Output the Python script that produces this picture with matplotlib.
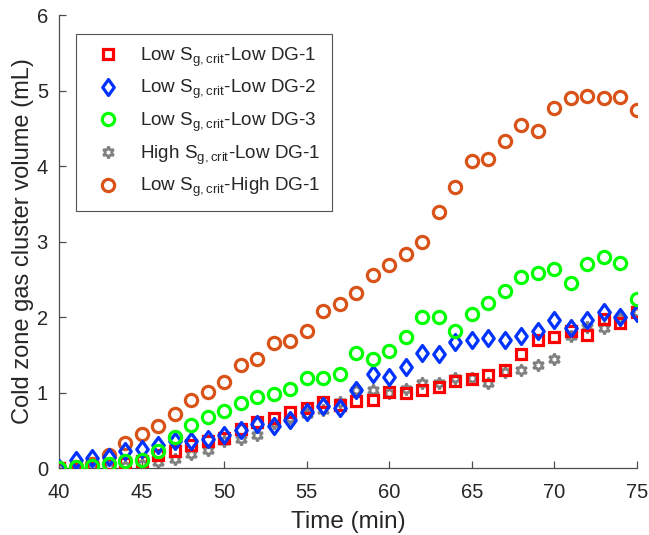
import numpy as np
import matplotlib
matplotlib.use('Agg')
import matplotlib.pyplot as plt
from matplotlib.path import Path

plt.rcParams['font.family'] = ['Liberation Sans', 'DejaVu Sans']
plt.rcParams['mathtext.fontset'] = 'custom'
plt.rcParams['mathtext.rm'] = 'Liberation Sans'
plt.rcParams['mathtext.it'] = 'Liberation Sans'

# time axis (min)
time = np.arange(40, 76)

# cluster volume (mL)
low_low_dg1 = [0.00, 0.00, 0.02, 0.05, 0.06, 0.09, 0.17, 0.22, 0.31, 0.36,
               0.40, 0.52, 0.61, 0.66, 0.74, 0.80, 0.88, 0.83, 0.89, 0.90,
               1.01, 0.99, 1.03, 1.07, 1.15, 1.18, 1.23, 1.30, 1.51, 1.70,
               1.73, 1.82, 1.76, 1.97, 1.92, 2.06]
low_low_dg2 = [0.00, 0.10, 0.13, 0.15, 0.22, 0.25, 0.31, 0.36, 0.36, 0.38,
               0.44, 0.51, 0.58, 0.55, 0.63, 0.74, 0.82, 0.80, 1.03, 1.25,
               1.21, 1.34, 1.52, 1.51, 1.67, 1.69, 1.72, 1.69, 1.75, 1.81,
               1.96, 1.85, 1.96, 2.06, 2.00, 2.05]
low_low_dg3 = [0.00, 0.01, 0.03, 0.05, 0.09, 0.11, 0.23, 0.41, 0.57, 0.68,
               0.76, 0.86, 0.94, 0.98, 1.05, 1.19, 1.19, 1.25, 1.52, 1.45,
               1.55, 1.74, 2.00, 2.00, 1.82, 2.04, 2.19, 2.34, 2.53, 2.58,
               2.63, 2.45, 2.70, 2.80, 2.72, 2.24]
high_low_dg1 = [0.00, 0.00, 0.00, 0.01, 0.03, 0.05, 0.08, 0.12, 0.19, 0.24,
                0.36, 0.39, 0.44, 0.60, 0.66, 0.72, 0.77, 0.88, 1.03, 1.04,
                0.99, 1.05, 1.12, 1.13, 1.19, 1.19, 1.12, 1.27, 1.30, 1.36,
                1.45, 1.75, 1.87, 1.85, 1.99, 2.07]
low_high_dg1 = [0.00, 0.02, 0.05, 0.17, 0.33, 0.45, 0.55, 0.71, 0.90, 1.01,
                1.14, 1.37, 1.45, 1.65, 1.68, 1.82, 2.08, 2.17, 2.32, 2.56,
                2.69, 2.84, 3.00, 3.39, 3.72, 4.06, 4.09, 4.33, 4.54, 4.46,
                4.77, 4.90, 4.93, 4.90, 4.91, 4.74]

labels = ['Low S$_{\\mathrm{g,crit}}$-Low DG-1',
          'Low S$_{\\mathrm{g,crit}}$-Low DG-2',
          'Low S$_{\\mathrm{g,crit}}$-Low DG-3',
          'High S$_{\\mathrm{g,crit}}$-Low DG-1',
          'Low S$_{\\mathrm{g,crit}}$-High DG-1']

# MATLAB-like diamond (a bit taller than wide)
diamond = Path([(0, 1), (0.72, 0), (0, -1), (-0.72, 0), (0, 1)],
               [Path.MOVETO, Path.LINETO, Path.LINETO, Path.LINETO, Path.CLOSEPOLY])

fig = plt.figure(figsize=(6.49, 5.35), dpi=100)
ax = fig.add_axes([0.0909, 0.1252, 0.8906, 0.8467])

mew = 2.3
h1, = ax.plot(time, low_low_dg1, linestyle='none', marker='s', ms=7.4,
              mfc='none', mec=(1, 0, 0), mew=mew, zorder=3)
h2, = ax.plot(time, low_low_dg2, linestyle='none', marker=diamond, ms=11.5,
              mfc='none', mec=(0, 0.2, 1), mew=mew, zorder=4)
h3, = ax.plot(time, low_low_dg3, linestyle='none', marker='o', ms=8.8,
              mfc='none', mec=(0, 1, 0), mew=mew, zorder=5)
h4, = ax.plot(time, high_low_dg1, linestyle='none', marker=(6, 1, 0), ms=8.5,
              mfc='none', mec=(0.5, 0.5, 0.5), mew=1.9, zorder=2)
h5, = ax.plot(time, low_high_dg1, linestyle='none', marker='o', ms=8.8,
              mfc='none', mec=(0.85, 0.325, 0.098), mew=mew, zorder=1)

ax.set_xlim(40, 75)
ax.set_ylim(0, 6)
ax.set_xticks(np.arange(40, 76, 5))
ax.set_yticks(np.arange(0, 7, 1))
ax.spines['top'].set_visible(False)
ax.spines['right'].set_visible(False)
for s in ['left', 'bottom']:
    ax.spines[s].set_color('#4d4d4d')
    ax.spines[s].set_linewidth(0.9)
ax.tick_params(direction='in', length=5, width=0.9, colors='#4d4d4d',
               labelcolor='#262626', labelsize=14.5)
ax.tick_params(axis='x', pad=11)
ax.tick_params(axis='y', pad=8)
ax.set_xlabel('Time (min)', fontsize=17.5, color='#262626', labelpad=6.5)
ax.set_ylabel('Cold zone gas cluster volume (mL)', fontsize=17, color='#262626', labelpad=2)

leg = ax.legend([h1, h2, h3, h4, h5], labels, loc='upper left',
                bbox_to_anchor=(0.0294, 0.958), borderaxespad=0,
                fontsize=13.6, frameon=True, fancybox=False,
                edgecolor='#262626', borderpad=0.6, labelspacing=0.5,
                handletextpad=0.6, handlelength=2.2)
leg.get_frame().set_linewidth(0.8)
for t in leg.get_texts():
    t.set_color('#262626')

fig.savefig('out.png', dpi=100)
